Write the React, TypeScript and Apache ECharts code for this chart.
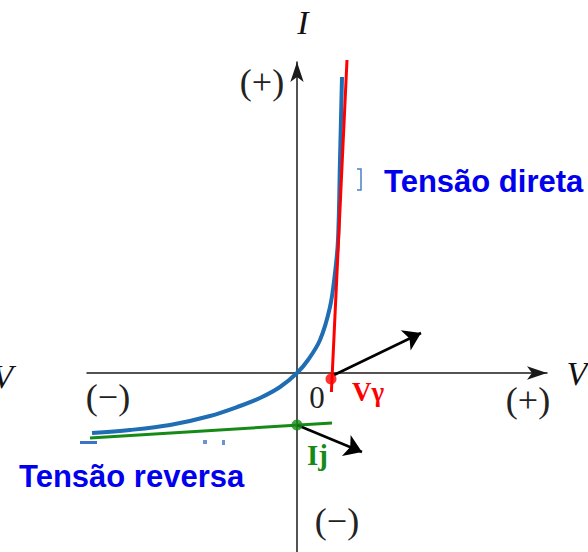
import React, { useEffect, useRef } from "react";
import * as echarts from "echarts";

// Axis ranges (data units)
const xRange = [-10.5, 12.5];
const yRange = [-8.95, 15.55];

// Diode characteristic curve (blue)
const blueCurve: number[][] = [
  [-10.25, -3.0], [-8.35, -2.85], [-6.35, -2.6], [-4.35, -2.15], [-2.85, -1.65],
  [-1.85, -1.25], [-0.85, -0.7], [0, 0], [0.55, 0.65], [1.15, 1.65], [1.65, 3.3],
  [1.9, 5.0], [2.05, 6.65], [2.15, 10.65], [2.25, 14.8],
];
// Forward tangent (red)
const redLine: number[][] = [[1.72, -0.95], [2.5, 15.65]];
const redDot: number[] = [1.7, -0.3];
// Reverse tangent (green)
const greenLine: number[][] = [[-10.35, -3.25], [1.75, -2.5]];
const greenDot: number[] = [0, -2.6];
// Pointer arrows
const arrowVy: number[][] = [[1.85, -0.1], [6.2, 2.0]];
const arrowIj: number[][] = [[0, -2.6], [3.25, -3.95]];

const SERIF = "'Liberation Serif', 'Times New Roman', serif";
const SANS = "'Liberation Sans', Arial, sans-serif";

function txt(text: string, x: number, y: number, font: string, fill: string, align = "center") {
  return {
    type: "text",
    x,
    y,
    silent: true,
    style: {
      text,
      font,
      fill,
      align,
      verticalAlign: "middle",
      textAlign: align,
      textVerticalAlign: "middle",
    },
  };
}

export default function App() {
  const ref = useRef<HTMLDivElement>(null);
  useEffect(() => {
    if (!ref.current) return;
    const chart = echarts.init(ref.current, undefined, { renderer: "svg" });
    const axisCommon = {
      type: "value",
      axisLine: {
        show: true,
        onZero: true,
        symbol: ["none", "arrow"],
        symbolSize: [10, 20],
        lineStyle: { color: "#1a1a1a", width: 1.5 },
      },
      axisTick: { show: false },
      axisLabel: { show: false },
      splitLine: { show: false },
    };
    chart.setOption({
      animation: false,
      backgroundColor: "#ffffff",
      grid: { left: 87, right: 41, top: 62, bottom: 0 },
      xAxis: { ...axisCommon, min: xRange[0], max: xRange[1] },
      yAxis: { ...axisCommon, min: yRange[0], max: yRange[1] },
      series: [
        {
          type: "line",
          data: blueCurve,
          smooth: 0.35,
          showSymbol: false,
          clip: false,
          lineStyle: { color: "#1f6db3", width: 4 },
          z: 2,
        },
        {
          type: "line",
          data: greenLine,
          showSymbol: false,
          clip: false,
          lineStyle: { color: "#168a16", width: 3 },
          z: 3,
        },
        {
          type: "line",
          data: redLine,
          showSymbol: false,
          clip: false,
          lineStyle: { color: "#ff0000", width: 3 },
          z: 4,
        },
        {
          type: "lines",
          coordinateSystem: "cartesian2d",
          symbol: ["none", "arrow"],
          symbolSize: 17,
          lineStyle: { color: "#000000", width: 2.5, opacity: 1 },
          data: [{ coords: arrowVy }, { coords: arrowIj }],
          z: 5,
        },
        {
          type: "scatter",
          symbolSize: 11,
          clip: false,
          data: [
            { value: redDot, itemStyle: { color: "#ff0000" } },
            { value: greenDot, itemStyle: { color: "#168a16" } },
          ],
          z: 6,
        },
      ],
      graphic: [
        txt("I", 303, 22, `italic 34px ${SERIF}`, "#111"),
        txt("(+)", 262, 82, `36px ${SERIF}`, "#222"),
        txt("V", 577, 373, `italic 34px ${SERIF}`, "#111"),
        txt("V", 13, 376, `italic 34px ${SERIF}`, "#111", "right"),
        txt("(\u2212)", 108, 397, `36px ${SERIF}`, "#222"),
        txt("0", 317, 397, `31px ${SERIF}`, "#222"),
        txt("(+)", 528, 400, `36px ${SERIF}`, "#222"),
        txt("(\u2212)", 337, 521, `36px ${SERIF}`, "#222"),
        txt("V\u03b3", 352, 392, `bold 27px ${SERIF}`, "#ff0000", "left"),
        txt("Ij", 307, 455, `bold 29px ${SERIF}`, "#168a16", "left"),
        txt("Tensão direta", 384, 181, `bold 31px ${SANS}`, "#0000ee", "left"),
        txt("Tensão reversa", 19, 476, `bold 31px ${SANS}`, "#0000ee", "left"),
        {
          type: "polyline",
          silent: true,
          shape: { points: [[357, 169], [361, 169], [361, 190], [357, 190]] },
          style: { stroke: "#4a80c8", lineWidth: 1.5, fill: "none" },
        },
        { type: "rect", silent: true, shape: { x: 80, y: 441, width: 17, height: 3 }, style: { fill: "#3c74c4" } },
        { type: "rect", silent: true, shape: { x: 203, y: 440, width: 4, height: 4 }, style: { fill: "#6b93d3" } },
        { type: "rect", silent: true, shape: { x: 222, y: 440, width: 3, height: 5 }, style: { fill: "#6b93d3" } },
      ],
    });
    return () => chart.dispose();
  }, []);
  return (
    <div
      ref={ref}
      style={{ position: "absolute", left: 0, top: 0, width: 588, height: 552 }}
    />
  );
}
